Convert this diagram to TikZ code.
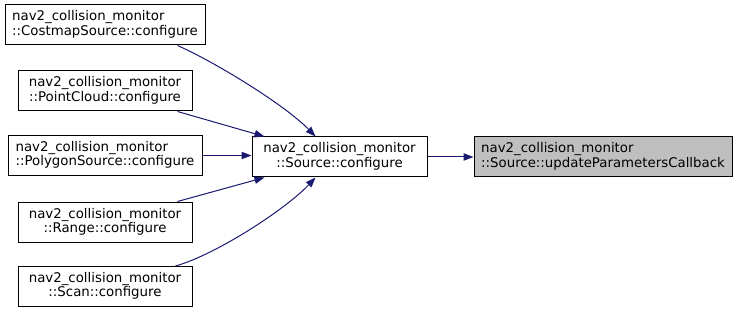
\documentclass[tikz,border=0pt]{standalone}
\usepackage{fontspec}
\setmainfont{DejaVu Sans}
\usetikzlibrary{arrows.meta, calc}

\definecolor{navy}{HTML}{191970}
\definecolor{hilite}{HTML}{BFBFBF}

% first line left, second line centred
\newcommand{\fname}[2]{\begin{tabular}{@{}c@{}}\multicolumn{1}{@{}l@{}}{#1}\\#2\end{tabular}}

\begin{document}
\begin{tikzpicture}[
    x=0.75pt,
    y=-0.75pt,
    >={Triangle[length=7.5pt,width=5.5pt]},
    fnbox/.style={draw=black, line width=0.75pt, minimum height=30pt,
        inner sep=0pt, font=\fontsize{10}{10}\selectfont},
    call/.style={->, draw=navy, line width=0.75pt}
]
\useasboundingbox (0,0) rectangle (737,313);

% =========================
% Callers
% =========================
\node[fnbox, minimum width=150pt] (costmap) at (105,25)
    {\fname{nav2\_collision\_monitor}{::CostmapSource::configure}};
\node[fnbox, minimum width=130.5pt] (pointcloud) at (105,91)
    {\fname{nav2\_collision\_monitor}{::PointCloud::configure}};
\node[fnbox, minimum width=145.5pt] (polygon) at (105,155.5)
    {\fname{nav2\_collision\_monitor}{::PolygonSource::configure}};
\node[fnbox, minimum width=130.5pt] (range) at (105,222)
    {\fname{nav2\_collision\_monitor}{::Range::configure}};
\node[fnbox, minimum width=130.5pt] (scan) at (105,286.5)
    {\fname{nav2\_collision\_monitor}{::Scan::configure}};

% =========================
% Source and callback
% =========================
\node[fnbox, minimum width=131.25pt] (source) at (339.5,157)
    {\fname{nav2\_collision\_monitor}{::Source::configure}};
\node[fnbox, fill=hilite, minimum width=193.5pt] (update) at (603,157)
    {\fname{nav2\_collision\_monitor}{::Source::updateParametersCallback}};

% Calls
\draw[call] ($(costmap.south west)+(173,0)$)
    .. controls (215,62) and (285,105) .. ($(source.north west)+(64,0)$);
\draw[call] ($(pointcloud.south west)+(160,0)$) -- ($(source.north west)+(13,0)$);
\draw[call] (polygon.east) -- (polygon.east -| source.west);
\draw[call] ($(range.north west)+(160,0)$) -- ($(source.south west)+(13,0)$);
\draw[call] ($(scan.north west)+(158,0)$)
    .. controls (215,255) and (285,210) .. ($(source.south west)+(64,0)$);
\draw[call] (source.east) -- (update.west);

\end{tikzpicture}
\end{document}
